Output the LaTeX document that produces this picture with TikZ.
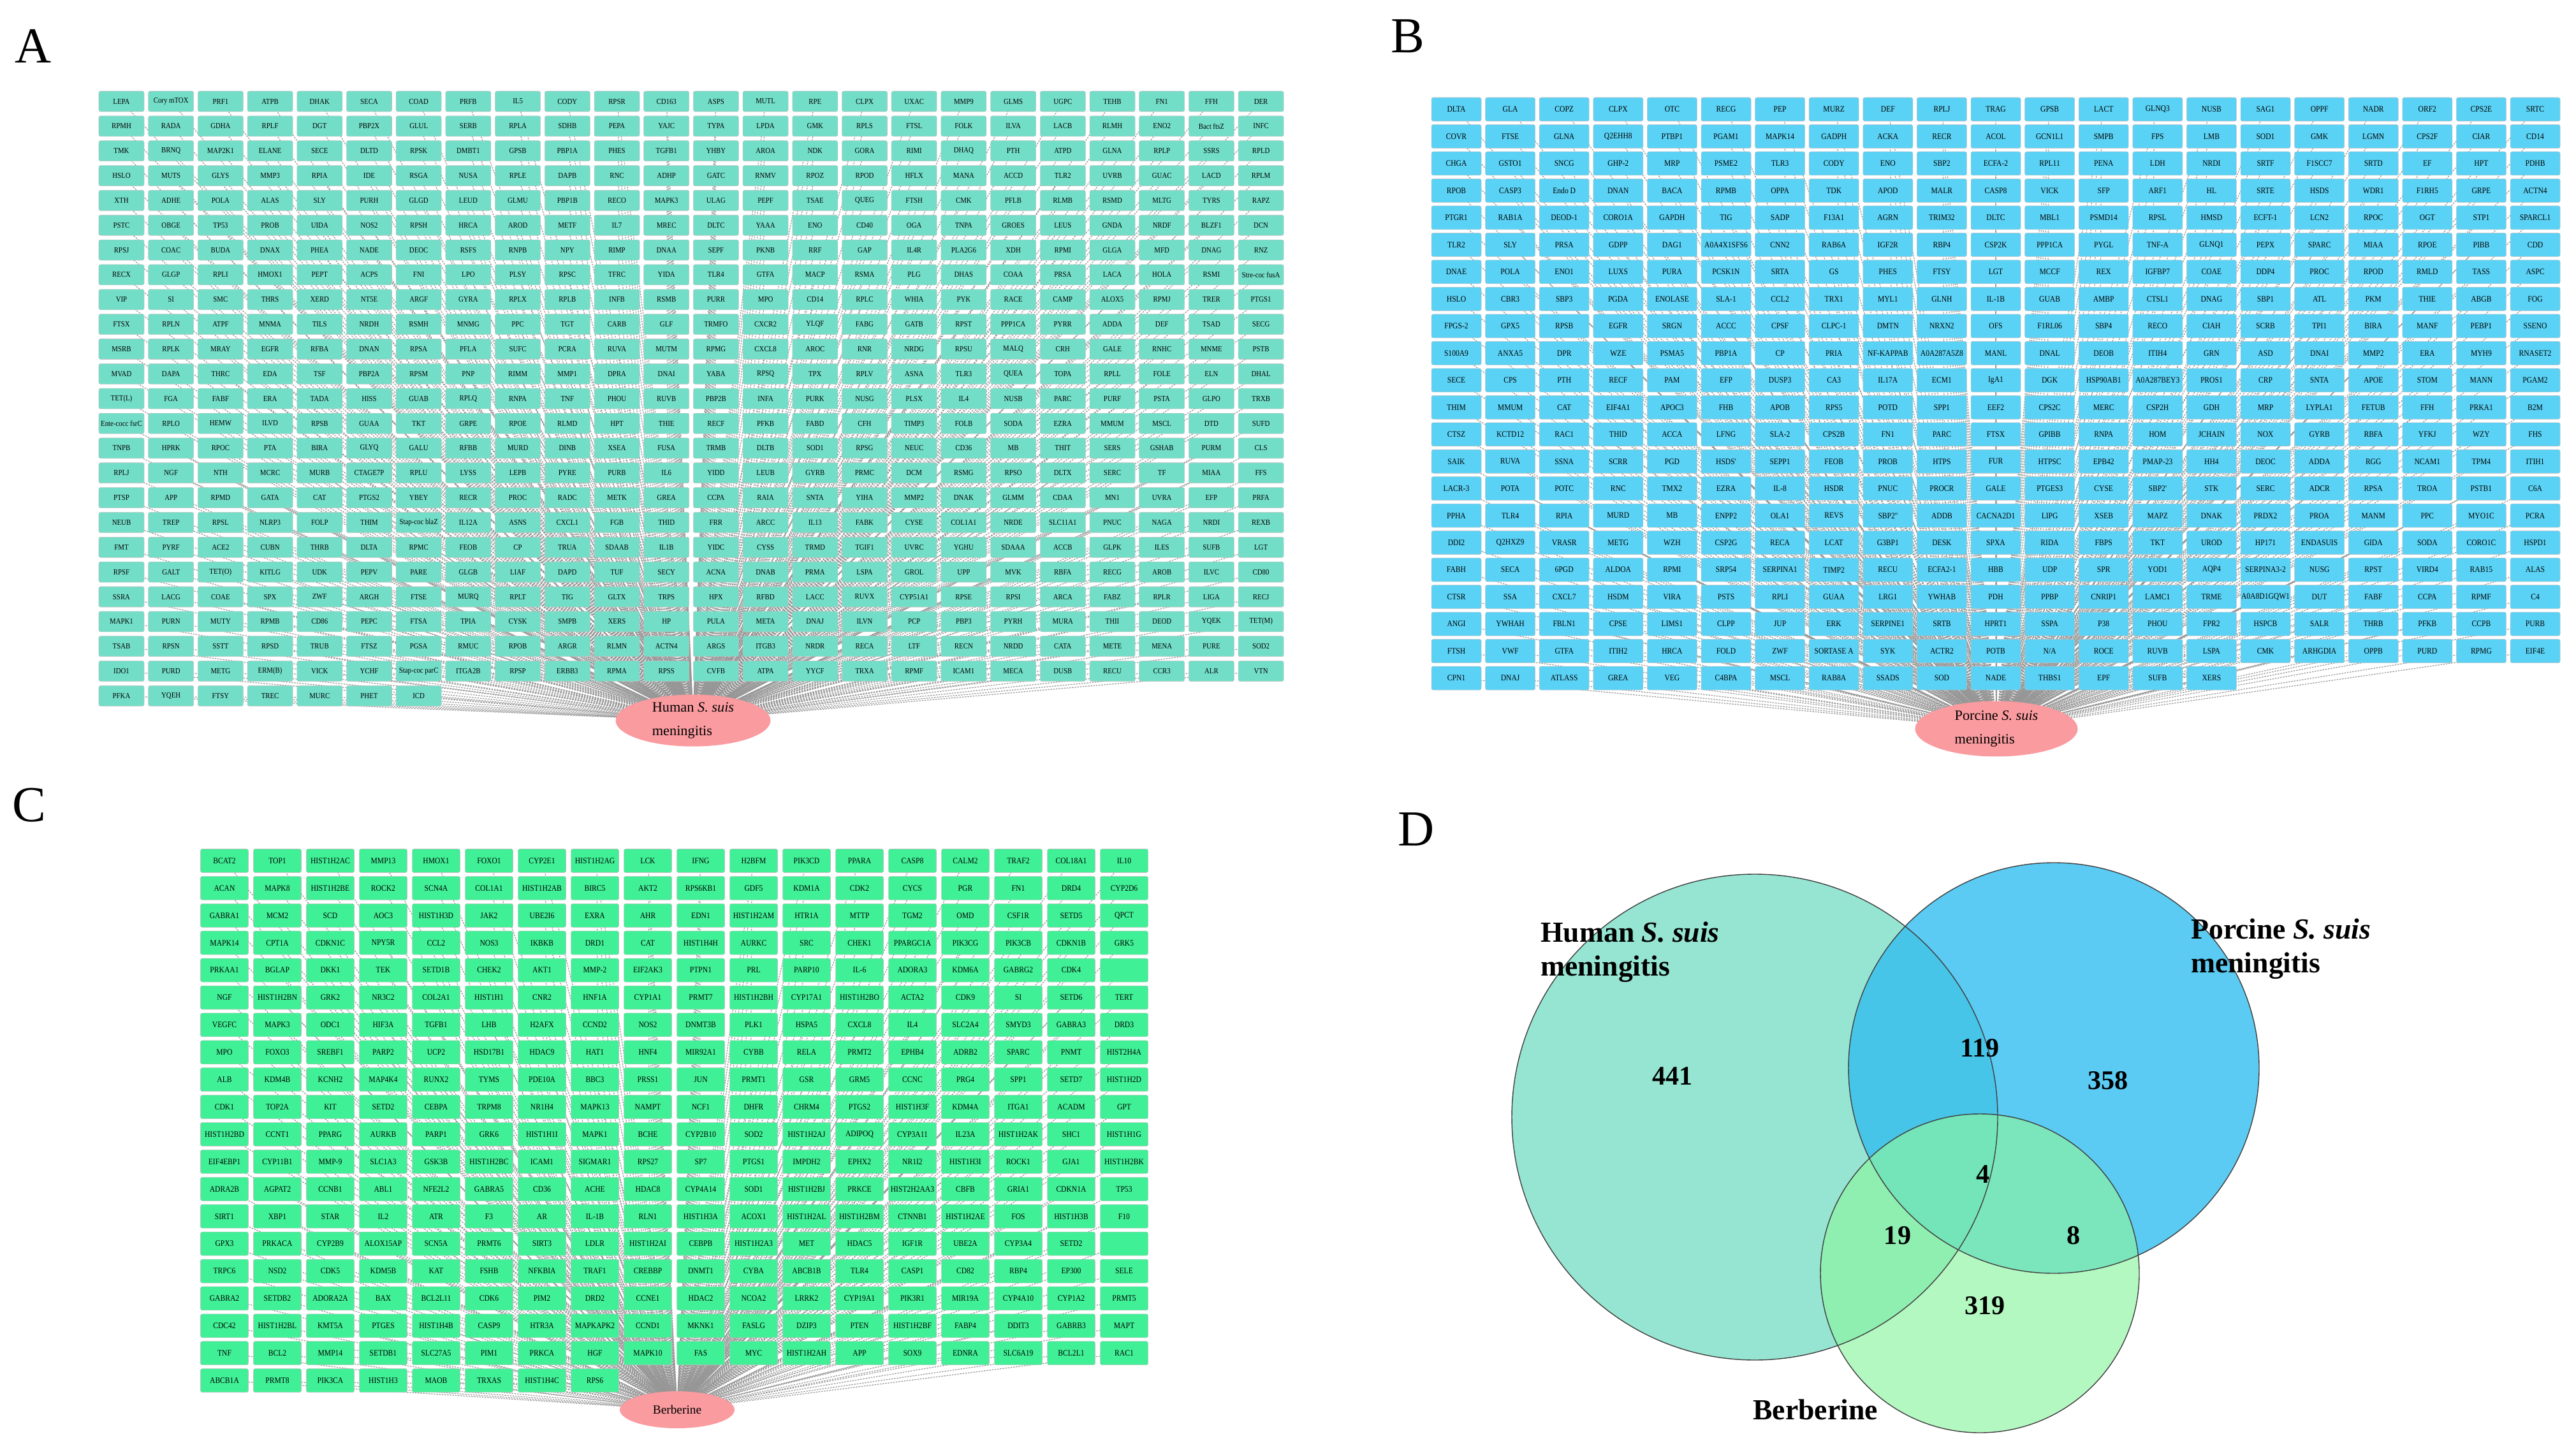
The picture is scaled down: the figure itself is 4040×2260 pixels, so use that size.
\documentclass[tikz,border=0pt]{standalone}
\usepackage{fontspec}
\setmainfont{Liberation Serif}
\newfontfamily\genefont[FakeStretch=0.88]{Liberation Serif}
\usetikzlibrary{shapes.geometric}

\definecolor{humanfill}{RGB}{115,222,200}
\definecolor{porcinefill}{RGB}{90,210,245}
\definecolor{berbfill}{RGB}{64,240,150}
\definecolor{hubfill}{RGB}{250,155,160}
\definecolor{linkgray}{RGB}{150,150,150}
\definecolor{humanvenn}{RGB}{115,220,195}
\definecolor{porcinevenn}{RGB}{50,190,240}
\definecolor{berbvenn}{RGB}{140,245,160}

\tikzset{
  gene/.style={rectangle, rounded corners=1.5pt, draw=white!75!black, line width=0.3pt, inner sep=0pt},
  humangene/.style={gene, fill=humanfill, minimum width=1.42cm, minimum height=0.64cm, font=\genefont\fontsize{7}{8}\selectfont},
  porcinegene/.style={gene, fill=porcinefill, minimum width=1.56cm, minimum height=0.74cm, font=\genefont\fontsize{7.5}{8}\selectfont},
  berbgene/.style={gene, fill=berbfill, minimum width=1.5cm, minimum height=0.74cm, font=\genefont\fontsize{7.5}{8}\selectfont},
  hub/.style={ellipse, fill=hubfill, inner sep=0pt, align=left, font=\fontsize{12.7}{21.6}\selectfont},
  link/.style={draw=linkgray, line width=0.7pt, dash pattern=on 1.4pt off 1pt},
  panel/.style={font=\fontsize{45}{50}\selectfont},
  vennlabel/.style={font=\bfseries\fontsize{26}{30}\selectfont, align=left, anchor=north west},
  vennnum/.style={font=\bfseries\fontsize{24}{28}\selectfont}
}

% gene lists, one group per grid row
\newcommand{\humangenes}{
  {LEPA,Cory mTOX,PRF1,ATPB,DHAK,SECA,COAD,PRFB,IL5,CODY,RPSR,CD163,ASPS,MUTL,RPE,CLPX,UXAC,MMP9,GLMS,UGPC,TEHB,FN1,FFH,DER},
  {RPMH,RADA,GDHA,RPLF,DGT,PBP2X,GLUL,SERB,RPLA,SDHB,PEPA,YAJC,TYPA,LPDA,GMK,RPLS,FTSL,FOLK,ILVA,LACB,RLMH,ENO2,Bact ftsZ,INFC},
  {TMK,BRNQ,MAP2K1,ELANE,SECE,DLTD,RPSK,DMBT1,GPSB,PBP1A,PHES,TGFB1,YHBY,AROA,NDK,GORA,RIMI,DHAQ,PTH,ATPD,GLNA,RPLP,SSRS,RPLD},
  {HSLO,MUTS,GLYS,MMP3,RPIA,IDE,RSGA,NUSA,RPLE,DAPB,RNC,ADHP,GATC,RNMV,RPOZ,RPOD,HFLX,MANA,ACCD,TLR2,UVRB,GUAC,LACD,RPLM},
  {XTH,ADHE,POLA,ALAS,SLY,PURH,GLGD,LEUD,GLMU,PBP1B,RECO,MAPK3,ULAG,PEPF,TSAE,QUEG,FTSH,CMK,PFLB,RLMB,RSMD,MLTG,TYRS,RAPZ},
  {PSTC,OBGE,TP53,PROB,UIDA,NOS2,RPSH,HRCA,AROD,METF,IL7,MREC,DLTC,YAAA,ENO,CD40,OGA,TNPA,GROES,LEUS,GNDA,NRDF,BLZF1,DCN},
  {RPSJ,COAC,BUDA,DNAX,PHEA,NADE,DEOC,RSFS,RNPB,NPY,RIMP,DNAA,SEPF,PKNB,RRF,GAP,IL4R,PLA2G6,XDH,RPMI,GLGA,MFD,DNAG,RNZ},
  {RECX,GLGP,RPLI,HMOX1,PEPT,ACPS,FNI,LPO,PLSY,RPSC,TFRC,YIDA,TLR4,GTFA,MACP,RSMA,PLG,DHAS,COAA,PRSA,LACA,HOLA,RSMI,Stre-coc fusA},
  {VIP,SI,SMC,THRS,XERD,NT5E,ARGF,GYRA,RPLX,RPLB,INFB,RSMB,PURR,MPO,CD14,RPLC,WHIA,PYK,RACE,CAMP,ALOX5,RPMJ,TRER,PTGS1},
  {FTSX,RPLN,ATPF,MNMA,TILS,NRDH,RSMH,MNMG,PPC,TGT,CARB,GLF,TRMFO,CXCR2,YLQF,FABG,GATB,RPST,PPP1CA,PYRR,ADDA,DEF,TSAD,SECG},
  {MSRB,RPLK,MRAY,EGFR,RFBA,DNAN,RPSA,PFLA,SUFC,PCRA,RUVA,MUTM,RPMG,CXCL8,AROC,RNR,NRDG,RPSU,MALQ,CRH,GALE,RNHC,MNME,PSTB},
  {MVAD,DAPA,THRC,EDA,TSF,PBP2A,RPSM,PNP,RIMM,MMP1,DPRA,DNAI,YABA,RPSQ,TPX,RPLV,ASNA,TLR3,QUEA,TOPA,RPLL,FOLE,ELN,DHAL},
  {TET(L),FGA,FABF,ERA,TADA,HISS,GUAB,RPLQ,RNPA,TNF,PHOU,RUVB,PBP2B,INFA,PURK,NUSG,PLSX,IL4,NUSB,PARC,PURF,PSTA,GLPO,TRXB},
  {Ente-cocc fsrC,RPLO,HEMW,ILVD,RPSB,GUAA,TKT,GRPE,RPOE,RLMD,HPT,THIE,RECF,PFKB,FABD,CFH,TIMP3,FOLB,SODA,EZRA,MMUM,MSCL,DTD,SUFD},
  {TNPB,HPRK,RPOC,PTA,BIRA,GLYQ,GALU,RFBB,MURD,DINB,XSEA,FUSA,TRMB,DLTB,SOD1,RPSG,NEUC,CD36,MB,THIT,SERS,GSHAB,PURM,CLS},
  {RPLJ,NGF,NTH,MCRC,MURB,CTAGE7P,RPLU,LYSS,LEPB,PYRE,PURB,IL6,YIDD,LEUB,GYRB,PRMC,DCM,RSMG,RPSO,DLTX,SERC,TF,MIAA,FFS},
  {PTSP,APP,RPMD,GATA,CAT,PTGS2,YBEY,RECR,PROC,RADC,METK,GREA,CCPA,RAIA,SNTA,YIHA,MMP2,DNAK,GLMM,CDAA,MN1,UVRA,EFP,PRFA},
  {NEUB,TREP,RPSL,NLRP3,FOLP,THIM,Stap-coc blaZ,IL12A,ASNS,CXCL1,FGB,THID,FRR,ARCC,IL13,FABK,CYSE,COL1A1,NRDE,SLC11A1,PNUC,NAGA,NRDI,REXB},
  {FMT,PYRF,ACE2,CUBN,THRB,DLTA,RPMC,FEOB,CP,TRUA,SDAAB,IL1B,YIDC,CYSS,TRMD,TGIF1,UVRC,YGHU,SDAAA,ACCB,GLPK,ILES,SUFB,LGT},
  {RPSF,GALT,TET(O),KITLG,UDK,PEPV,PARE,GLGB,LIAF,DAPD,TUF,SECY,ACNA,DNAB,PRMA,LSPA,GROL,UPP,MVK,RBFA,RECG,AROB,ILVC,CD80},
  {SSRA,LACG,COAE,SPX,ZWF,ARGH,FTSE,MURQ,RPLT,TIG,GLTX,TRPS,HPX,RFBD,LACC,RUVX,CYP51A1,RPSE,RPSI,ARCA,FABZ,RPLR,LIGA,RECJ},
  {MAPK1,PURN,MUTY,RPMB,CD86,PEPC,FTSA,TPIA,CYSK,SMPB,XERS,HP,PULA,META,DNAJ,ILVN,PCP,PBP3,PYRH,MURA,THII,DEOD,YQEK,TET(M)},
  {TSAB,RPSN,SSTT,RPSD,TRUB,FTSZ,PGSA,RMUC,RPOB,ARGR,RLMN,ACTN4,ARGS,ITGB3,NRDR,RECA,LTF,RECN,NRDD,CATA,METE,MENA,PURE,SOD2},
  {IDO1,PURD,METG,ERM(B),VICK,YCHF,Stap-coc parC,ITGA2B,RPSP,ERBB3,RPMA,RPSS,CVFB,ATPA,YYCF,TRXA,RPMF,ICAM1,MECA,DUSB,RECU,CCR3,ALR,VTN},
  {PFKA,YQEH,FTSY,TREC,MURC,PHET,ICD}}
\newcommand{\porcinegenes}{
  {DLTA,GLA,COPZ,CLPX,OTC,RECG,PEP,MURZ,DEF,RPLJ,TRAG,GPSB,LACT,GLNQ3,NUSB,SAG1,OPPF,NADR,ORF2,CPS2E,SRTC},
  {COVR,FTSE,GLNA,Q2EHH8,PTBP1,PGAM1,MAPK14,GADPH,ACKA,RECR,ACOL,GCN1L1,SMPB,FPS,LMB,SOD1,GMK,LGMN,CPS2F,CIAR,CD14},
  {CHGA,GSTO1,SNCG,GHP-2,MRP,PSME2,TLR3,CODY,ENO,SBP2,ECFA-2,RPL11,PENA,LDH,NRDI,SRTF,F1SCC7,SRTD,EF,HPT,PDHB},
  {RPOB,CASP3,Endo D,DNAN,BACA,RPMB,OPPA,TDK,APOD,MALR,CASP8,VICK,SFP,ARF1,HL,SRTE,HSDS,WDR1,F1RH5,GRPE,ACTN4},
  {PTGR1,RAB1A,DEOD-1,CORO1A,GAPDH,TIG,SADP,F13A1,AGRN,TRIM32,DLTC,MBL1,PSMD14,RPSL,HMSD,ECFT-1,LCN2,RPOC,OGT,STP1,SPARCL1},
  {TLR2,SLY,PRSA,GDPP,DAG1,A0A4X1SFS6,CNN2,RAB6A,IGF2R,RBP4,CSP2K,PPP1CA,PYGL,TNF-A,GLNQ1,PEPX,SPARC,MIAA,RPOE,PIBB,CDD},
  {DNAE,POLA,ENO1,LUXS,PURA,PCSK1N,SRTA,GS,PHES,FTSY,LGT,MCCF,REX,IGFBP7,COAE,DDP4,PROC,RPOD,RMLD,TASS,ASPC},
  {HSLO,CBR3,SBP3,PGDA,ENOLASE,SLA-1,CCL2,TRX1,MYL1,GLNH,IL-1B,GUAB,AMBP,CTSL1,DNAG,SBP1,ATL,PKM,THIE,ABGB,FOG},
  {FPGS-2,GPX5,RPSB,EGFR,SRGN,ACCC,CPSF,CLPC-1,DMTN,NRXN2,OFS,F1RL06,SBP4,RECO,CIAH,SCRB,TPI1,BIRA,MANF,PEBP1,SSENO},
  {S100A9,ANXA5,DPR,WZE,PSMA5,PBP1A,CP,PRIA,NF-KAPPAB,A0A287A5Z8,MANL,DNAL,DEOB,ITIH4,GRN,ASD,DNAI,MMP2,ERA,MYH9,RNASET2},
  {SECE,CPS,PTH,RECF,PAM,EFP,DUSP3,CA3,IL17A,ECM1,IgA1,DGK,HSP90AB1,A0A287BEY3,PROS1,CRP,SNTA,APOE,STOM,MANN,PGAM2},
  {THIM,MMUM,CAT,EIF4A1,APOC3,FHB,APOB,RPS5,POTD,SPP1,EEF2,CPS2C,MERC,CSP2H,GDH,MRP,LYPLA1,FETUB,FFH,PRKA1,B2M},
  {CTSZ,KCTD12,RAC1,THID,ACCA,LFNG,SLA-2,CPS2B,FN1,PARC,FTSX,GPIBB,RNPA,HOM,JCHAIN,NOX,GYRB,RBFA,YFKJ,WZY,FHS},
  {SAIK,RUVA,SSNA,SCRR,PGD,HSDS',SEPP1,FEOB,PROB,HTPS,FUR,HTPSC,EPB42,PMAP-23,HH4,DEOC,ADDA,RGG,NCAM1,TPM4,ITIH1},
  {LACR-3,POTA,POTC,RNC,TMX2,EZRA,IL-8,HSDR,PNUC,PROCR,GALE,PTGES3,CYSE,SBP2',STK,SERC,ADCR,RPSA,TROA,PSTB1,C6A},
  {PPHA,TLR4,RPIA,MURD,MB,ENPP2,OLA1,REVS,SBP2'',ADDB,CACNA2D1,LIPG,XSEB,MAPZ,DNAK,PRDX2,PROA,MANM,PPC,MYO1C,PCRA},
  {DDI2,Q2HXZ9,VRASR,METG,WZH,CSP2G,RECA,LCAT,G3BP1,DESK,SPXA,RIDA,FBPS,TKT,UROD,HP171,ENDASUIS,GIDA,SODA,CORO1C,HSPD1},
  {FABH,SECA,6PGD,ALDOA,RPMI,SRP54,SERPINA1,TIMP2,RECU,ECFA2-1,HBB,UDP,SPR,YOD1,AQP4,SERPINA3-2,NUSG,RPST,VIRD4,RAB15,ALAS},
  {CTSR,SSA,CXCL7,HSDM,VIRA,PSTS,RPLI,GUAA,LRG1,YWHAB,PDH,PPBP,CNRIP1,LAMC1,TRME,A0A8D1GQW1,DUT,FABF,CCPA,RPMF,C4},
  {ANGI,YWHAH,FBLN1,CPSE,LIMS1,CLPP,JUP,ERK,SERPINE1,SRTB,HPRT1,SSPA,P38,PHOU,FPR2,HSPCB,SALR,THRB,PFKB,CCPB,PURB},
  {FTSH,VWF,GTFA,ITIH2,HRCA,FOLD,ZWF,SORTASE A,SYK,ACTR2,POTB,N/A,ROCE,RUVB,LSPA,CMK,ARHGDIA,OPPB,PURD,RPMG,EIF4E},
  {CPN1,DNAJ,ATLASS,GREA,VEG,C4BPA,MSCL,RAB8A,SSADS,SOD,NADE,THBS1,EPF,SUFB,XERS}}
\newcommand{\berbgenes}{
  {BCAT2,TOP1,HIST1H2AC,MMP13,HMOX1,FOXO1,CYP2E1,HIST1H2AG,LCK,IFNG,H2BFM,PIK3CD,PPARA,CASP8,CALM2,TRAF2,COL18A1,IL10},
  {ACAN,MAPK8,HIST1H2BE,ROCK2,SCN4A,COL1A1,HIST1H2AB,BIRC5,AKT2,RPS6KB1,GDF5,KDM1A,CDK2,CYCS,PGR,FN1,DRD4,CYP2D6},
  {GABRA1,MCM2,SCD,AOC3,HIST1H3D,JAK2,UBE2I6,EXRA,AHR,EDN1,HIST1H2AM,HTR1A,MTTP,TGM2,OMD,CSF1R,SETD5,QPCT},
  {MAPK14,CPT1A,CDKN1C,NPY5R,CCL2,NOS3,IKBKB,DRD1,CAT,HIST1H4H,AURKC,SRC,CHEK1,PPARGC1A,PIK3CG,PIK3CB,CDKN1B,GRK5},
  {PRKAA1,BGLAP,DKK1,TEK,SETD1B,CHEK2,AKT1,MMP-2,EIF2AK3,PTPN1,PRL,PARP10,IL-6,ADORA3,KDM6A,GABRG2,CDK4,{}},
  {NGF,HIST1H2BN,GRK2,NR3C2,COL2A1,HIST1H1,CNR2,HNF1A,CYP1A1,PRMT7,HIST1H2BH,CYP17A1,HIST1H2BO,ACTA2,CDK9,SI,SETD6,TERT},
  {VEGFC,MAPK3,ODC1,HIF3A,TGFB1,LHB,H2AFX,CCND2,NOS2,DNMT3B,PLK1,HSPA5,CXCL8,IL4,SLC2A4,SMYD3,GABRA3,DRD3},
  {MPO,FOXO3,SREBF1,PARP2,UCP2,HSD17B1,HDAC9,HAT1,HNF4,MIR92A1,CYBB,RELA,PRMT2,EPHB4,ADRB2,SPARC,PNMT,HIST2H4A},
  {ALB,KDM4B,KCNH2,MAP4K4,RUNX2,TYMS,PDE10A,BBC3,PRSS1,JUN,PRMT1,GSR,GRM5,CCNC,PRG4,SPP1,SETD7,HIST1H2D},
  {CDK1,TOP2A,KIT,SETD2,CEBPA,TRPM8,NR1H4,MAPK13,NAMPT,NCF1,DHFR,CHRM4,PTGS2,HIST1H3F,KDM4A,ITGA1,ACADM,GPT},
  {HIST1H2BD,CCNT1,PPARG,AURKB,PARP1,GRK6,HIST1H1I,MAPK1,BCHE,CYP2B10,SOD2,HIST1H2AJ,ADIPOQ,CYP3A11,IL23A,HIST1H2AK,SHC1,HIST1H1G},
  {EIF4EBP1,CYP11B1,MMP-9,SLC1A3,GSK3B,HIST1H2BC,ICAM1,SIGMAR1,RPS27,SP7,PTGS1,IMPDH2,EPHX2,NR1I2,HIST1H3I,ROCK1,GJA1,HIST1H2BK},
  {ADRA2B,AGPAT2,CCNB1,ABL1,NFE2L2,GABRA5,CD36,ACHE,HDAC8,CYP4A14,SOD1,HIST1H2BJ,PRKCE,HIST2H2AA3,CBFB,GRIA1,CDKN1A,TP53},
  {SIRT1,XBP1,STAR,IL2,ATR,F3,AR,IL-1B,RLN1,HIST1H3A,ACOX1,HIST1H2AL,HIST1H2BM,CTNNB1,HIST1H2AE,FOS,HIST1H3B,F10},
  {GPX3,PRKACA,CYP2B9,ALOX15AP,SCN5A,PRMT6,SIRT3,LDLR,HIST1H2AI,CEBPB,HIST1H2A3,MET,HDAC5,IGF1R,UBE2A,CYP3A4,SETD2,{}},
  {TRPC6,NSD2,CDK5,KDM5B,KAT,FSHB,NFKBIA,TRAF1,CREBBP,DNMT1,CYBA,ABCB1B,TLR4,CASP1,CD82,RBP4,EP300,SELE},
  {GABRA2,SETDB2,ADORA2A,BAX,BCL2L11,CDK6,PIM2,DRD2,CCNE1,HDAC2,NCOA2,LRRK2,CYP19A1,PIK3R1,MIR19A,CYP4A10,CYP1A2,PRMT5},
  {CDC42,HIST1H2BL,KMT5A,PTGES,HIST1H4B,CASP9,HTR3A,MAPKAPK2,CCND1,MKNK1,FASLG,DZIP3,PTEN,HIST1H2BF,FABP4,DDIT3,GABRB3,MAPT},
  {TNF,BCL2,MMP14,SETDB1,SLC27A5,PIM1,PRKCA,HGF,MAPK10,FAS,MYC,HIST1H2AH,APP,SOX9,EDNRA,SLC6A19,BCL2L1,RAC1},
  {ABCB1A,PRMT8,PIK3CA,HIST1H3,MAOB,TRXAS,HIST1H4C,RPS6}}

\begin{document}
\begin{tikzpicture}[x=0.02cm, y=-0.02cm]
\useasboundingbox (0,0) rectangle (4040,2260);

% panel letters
\node[panel] (labA) at (52,72) {A};
\node[panel] (labB) at (2208,57) {B};
\node[panel] (labC) at (46,1263) {C};
\node[panel] (labD) at (2221,1301) {D};

% hub centres, the edges run to them
\coordinate (hubA) at (1087,1130);
\coordinate (hubB) at (3131,1143);
\coordinate (hubC) at (1062,2211);

% edges first, so that the genes cover them
\foreach \genes [count=\r from 0] in \humangenes {
  \foreach \g [count=\c from 0] in \genes {
    \coordinate (h-\r-\c) at (190.5+77.7*\c, 159+38.85*\r);
    \draw[link] (h-\r-\c) -- (hubA);
  }
}
\foreach \genes [count=\r from 0] in \porcinegenes {
  \foreach \g [count=\c from 0] in \genes {
    \coordinate (p-\r-\c) at (2284+84.6*\c, 171.5+42.48*\r);
    \draw[link] (p-\r-\c) -- (hubB);
  }
}
\foreach \genes [count=\r from 0] in \berbgenes {
  \foreach \g [count=\c from 0] in \genes {
    \coordinate (b-\r-\c) at (352+83*\c, 1350+42.9*\r);
    \draw[link] (b-\r-\c) -- (hubC);
  }
}

% gene boxes
\foreach \genes [count=\r from 0] in \humangenes {
  \foreach \g [count=\c from 0] in \genes
    \node[humangene] (h-\r-\c) at (h-\r-\c) {\g};
}
\foreach \genes [count=\r from 0] in \porcinegenes {
  \foreach \g [count=\c from 0] in \genes
    \node[porcinegene] (p-\r-\c) at (p-\r-\c) {\g};
}
\foreach \genes [count=\r from 0] in \berbgenes {
  \foreach \g [count=\c from 0] in \genes
    \node[berbgene] (b-\r-\c) at (b-\r-\c) {\g};
}

% hubs
\node[hub, minimum width=4.86cm, minimum height=1.6cm] (hubA) at (hubA) {Human \textit{S. suis}\\meningitis};
\node[hub, minimum width=5.1cm, minimum height=1.74cm] (hubB) at (hubB) {Porcine \textit{S. suis}\\meningitis};
\node[hub, minimum width=3.6cm, minimum height=1.16cm, font=\fontsize{11}{13}\selectfont] (hubC) at (hubC) {Berberine};

% Venn diagram of the three gene sets
\fill[humanvenn, fill opacity=0.75] (2752,1752) circle[radius=381];
\fill[porcinevenn, fill opacity=0.8] (3221,1675) circle[radius=322];
\fill[berbvenn, fill opacity=0.65] (3105,1997) circle[radius=250];
\draw[black!75, line width=0.8pt] (2752,1752) circle[radius=381];
\draw[black!75, line width=0.8pt] (3221,1675) circle[radius=322];
\draw[black!75, line width=0.8pt] (3105,1997) circle[radius=250];

\node[vennlabel] (vennA) at (2410,1440) {Human \textit{S. suis}\\meningitis};
\node[vennlabel] (vennB) at (3430,1435) {Porcine \textit{S. suis}\\meningitis};
\node[vennlabel, anchor=center] (vennC) at (2847,2211) {Berberine};

\node[vennnum] (n441) at (2623,1688) {441};
\node[vennnum] (n119) at (3105,1644) {119};
\node[vennnum] (n358) at (3306,1695) {358};
\node[vennnum] (n4) at (3110,1842) {4};
\node[vennnum] (n19) at (2976,1938) {19};
\node[vennnum] (n8) at (3252,1938) {8};
\node[vennnum] (n319) at (3113,2048) {319};

\end{tikzpicture}
\end{document}
